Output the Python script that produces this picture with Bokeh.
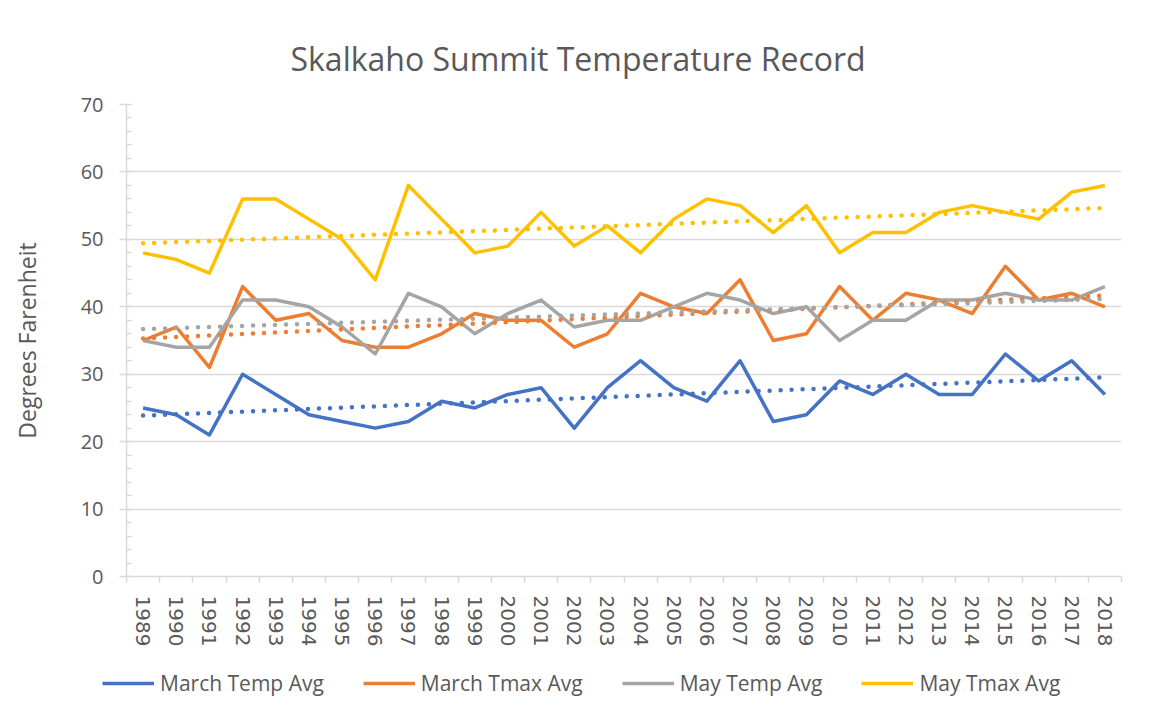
import numpy as np
from bokeh.plotting import figure
from bokeh.layouts import column
from bokeh.models import (Range1d, FixedTicker, Legend, LegendItem)
from bokeh.embed import file_html
from bokeh.resources import INLINE

years = list(range(1989, 2019))
march_temp_avg = [25, 24, 21, 30, 27, 24, 23, 22, 23, 26, 25, 27, 28, 22, 28,
                  32, 28, 26, 32, 23, 24, 29, 27, 30, 27, 27, 33, 29, 32, 27]
march_tmax_avg = [35, 37, 31, 43, 38, 39, 35, 34, 34, 36, 39, 38, 38, 34, 36,
                  42, 40, 39, 44, 35, 36, 43, 38, 42, 41, 39, 46, 41, 42, 40]
may_temp_avg = [35, 34, 34, 41, 41, 40, 37, 33, 42, 40, 36, 39, 41, 37, 38,
                38, 40, 42, 41, 39, 40, 35, 38, 38, 41, 41, 42, 41, 41, 43]
may_tmax_avg = [48, 47, 45, 56, 56, 53, 50, 44, 58, 53, 48, 49, 54, 49, 52,
                48, 53, 56, 55, 51, 55, 48, 51, 51, 54, 55, 54, 53, 57, 58]
series_names = ["March Temp Avg", "March Tmax Avg", "May Temp Avg", "May Tmax Avg"]
series_values = [march_temp_avg, march_tmax_avg, may_temp_avg, may_tmax_avg]
colors = ["#4472C4", "#ED7D31", "#A5A5A5", "#FFC000"]
y_ticks = [0, 10, 20, 30, 40, 50, 60, 70]

TXT = "#595959"
GRID = "#D9D9D9"

p = figure(width=1149, height=660, output_backend="svg", toolbar_location=None,
           x_range=Range1d(years[0] - 0.5, years[-1] + 0.5),
           y_range=Range1d(0, 70),
           min_border_left=126, min_border_right=28,
           min_border_top=104, min_border_bottom=84)
p.outline_line_color = None
p.border_fill_color = "white"

p.title.text = "Skalkaho Summit Temperature Record"
p.title.align = "left"
p.title.offset = 164
p.title.text_font = "Open Sans"
p.title.text_font_size = "32px"
p.title.text_font_style = "normal"
p.title.text_color = TXT
p.title.standoff = 49

# x axis
xa = p.xaxis[0]
xa.ticker = FixedTicker(ticks=years, minor_ticks=[y - 0.5 for y in years] + [years[-1] + 0.5])
xa.major_label_orientation = "vertical"
xa.major_label_text_font = "DejaVu Sans"
xa.major_label_text_font_size = "20px"
xa.major_label_text_color = TXT
xa.major_tick_in = 0
xa.major_tick_out = 0
xa.minor_tick_in = 0
xa.minor_tick_out = 6
xa.minor_tick_line_color = GRID
xa.minor_tick_line_width = 1.5
xa.axis_line_color = GRID
xa.axis_line_width = 1.5
xa.major_label_standoff = 13

# y axis
ya = p.yaxis[0]
ya.ticker = FixedTicker(ticks=y_ticks, minor_ticks=list(range(0, 71, 2)))
ya.major_label_text_font = "Open Sans"
ya.major_label_text_font_size = "20px"
ya.major_label_text_color = TXT
ya.major_tick_in = 0
ya.major_tick_out = 7
ya.major_tick_line_color = GRID
ya.major_tick_line_width = 1.5
ya.minor_tick_in = 5
ya.minor_tick_out = 0
ya.minor_tick_line_color = GRID
ya.minor_tick_line_width = 1.5
ya.axis_line_color = GRID
ya.axis_line_width = 1.5
ya.major_label_standoff = 16
ya.axis_label = "Degrees Farenheit"
ya.axis_label_text_font = "Open Sans"
ya.axis_label_text_font_size = "23px"
ya.axis_label_text_font_style = "normal"
ya.axis_label_text_color = TXT
ya.axis_label_standoff = 35

p.xgrid.grid_line_color = None
p.ygrid.ticker = FixedTicker(ticks=y_ticks[1:])
p.ygrid.grid_line_color = GRID
p.ygrid.grid_line_width = 1.5

x = np.array(years, dtype=float)
for name, vals, col in zip(series_names, series_values, colors):
    p.line(x=years, y=vals, line_color=col, line_width=3.5, line_join="round")

for vals, col in zip(series_values, colors):
    k, b = np.polyfit(x, np.array(vals, dtype=float), 1)
    p.line(x=[x[0], x[-1]], y=[k * x[0] + b, k * x[-1] + b], line_color=col,
           line_width=4.5, line_dash="0 11", line_cap="round")

# legend strip below the chart (its own frame spans the full width)
lf = figure(width=1149, height=55, output_backend="svg", toolbar_location=None,
            x_axis_type=None, y_axis_type=None,
            x_range=Range1d(0, 1), y_range=Range1d(0, 1),
            min_border_left=0, min_border_right=0, min_border_top=0, min_border_bottom=0)
lf.frame_align = False
lf.outline_line_color = None
lf.grid.grid_line_color = None
items = []
for name, col in zip(series_names, colors):
    # legend-key renderers, kept outside the visible range
    r = lf.line(x=[5, 6], y=[5, 6], line_color=col, line_width=3.5)
    items.append(LegendItem(label=name, renderers=[r]))

legend = Legend(items=items, orientation="horizontal", location=(102, 18))
legend.glyph_width = 52
legend.glyph_height = 20
legend.label_standoff = 6
legend.spacing = 39
legend.padding = 6
legend.margin = 0
legend.label_text_font = "Open Sans"
legend.label_text_font_size = "21px"
legend.label_text_color = TXT
legend.border_line_color = None
legend.background_fill_alpha = 0
lf.add_layout(legend, "center")

layout = column(p, lf, spacing=0)
open("out.html", "w").write(file_html(layout, INLINE))
